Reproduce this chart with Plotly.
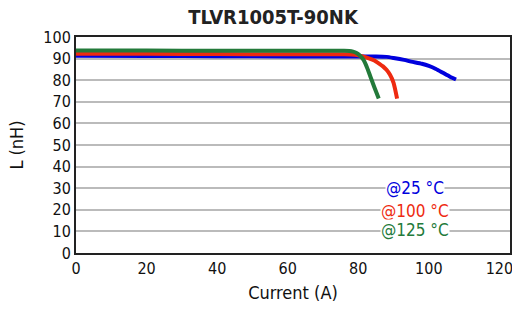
import plotly.graph_objects as go

x25 = [0, 20, 40, 60, 80, 85, 88, 90, 93, 95, 98, 100, 102, 104, 106, 107.7]
y25 = [91.3, 91.2, 91.1, 91.0, 91.0, 91.0, 90.8, 90.3, 89.4, 88.6, 87.6, 86.6, 85.2, 83.4, 81.6, 80.3]
x100 = [0, 20, 40, 60, 76, 78, 80, 82, 84, 85, 86, 87, 88, 89, 90, 91]
y100 = [92.3, 92.2, 92.1, 92.0, 92.0, 91.9, 91.5, 90.7, 89.5, 88.7, 87.6, 86.4, 84.8, 82.5, 78.8, 71.5]
x125 = [0, 20, 40, 60, 76, 77.5, 78.5, 79.5, 80.5, 81.5, 82.5, 83.5, 84.5, 85.8]
y125 = [93.7, 93.7, 93.6, 93.6, 93.6, 93.5, 93.2, 92.6, 91.4, 89.4, 85.8, 81.4, 77.0, 71.5]
labels = ["@25 °C", "@100 °C", "@125 °C"]
colors = ["#0000dd", "#ee2a10", "#237a3a"]

font = "DejaVu Sans Condensed, Liberation Sans Narrow, Roboto, Arial"
fig = go.Figure()
for xs, ys, c in [(x25, y25, colors[0]), (x100, y100, colors[1]), (x125, y125, colors[2])]:
    fig.add_trace(go.Scatter(x=xs, y=ys, mode="lines", line=dict(color=c, width=4, shape="spline", smoothing=0.6), showlegend=False))

for lab, c, yy in zip(labels, colors, [30, 19.5, 10.5]):
    fig.add_annotation(x=96, y=yy, text=lab, showarrow=False, xanchor="center",
                       font=dict(color=c, size=17, family=font), bgcolor="white", borderpad=0)

fig.update_layout(
    width=512, height=309, margin=dict(l=76, r=2, t=37, b=56, autoexpand=False),
    paper_bgcolor="white", plot_bgcolor="white",
    title=dict(text="<b>TLVR1005T-90NK</b>", x=273 / 512, xanchor="center", y=1 - 17 / 309, yanchor="middle",
               font=dict(family=font, size=20, color="#222")),
    font=dict(family=font, size=16, color="#111"),
    xaxis=dict(range=[0, 123], tickvals=[0, 20, 40, 60, 80, 100, 120], showgrid=False, automargin=False,
               showline=True, linecolor="#222", linewidth=2, mirror=True, zeroline=False,
               ticklabeloverflow="allow",
               title=dict(text="Current (A)", font=dict(size=18), standoff=9), ticks=""),
    yaxis=dict(range=[0, 100], tickvals=list(range(0, 101, 10)), showgrid=True, gridcolor="#bbbbbb", automargin=False,
               gridwidth=2, showline=True, linecolor="#222", linewidth=2, mirror=True, zeroline=False,
               title=dict(text="L (nH)", font=dict(size=18), standoff=15), ticks=""),
)
fig.write_html("out.html", config={"displayModeBar": False},
               post_script="document.body.style.margin='0';document.body.style.overflow='hidden';")
